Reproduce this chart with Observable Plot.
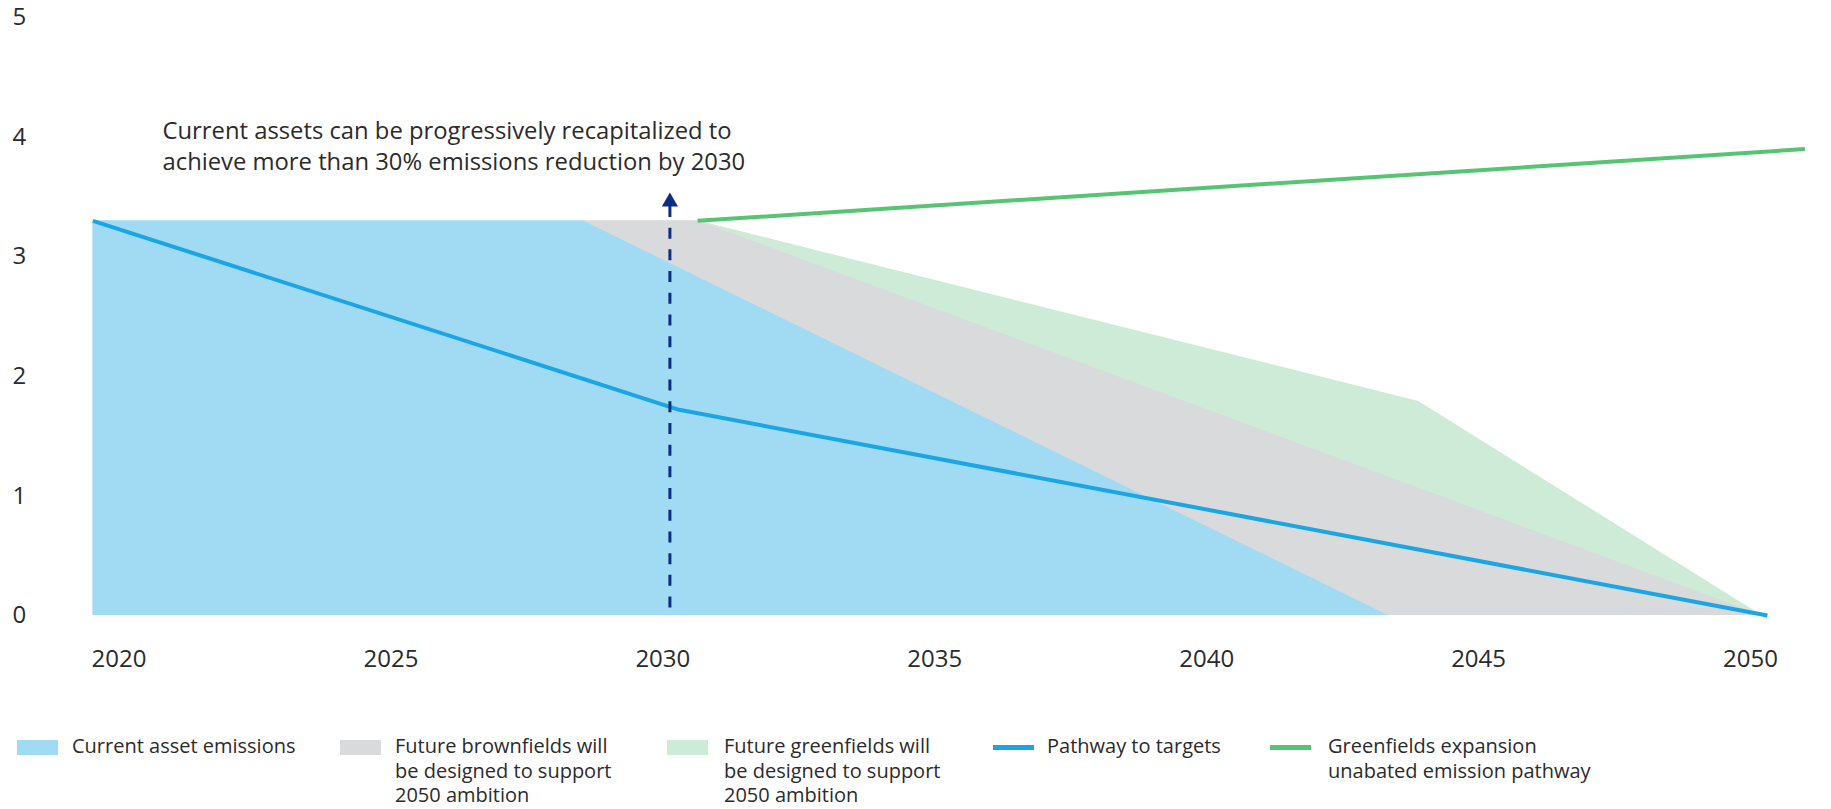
<!DOCTYPE html>
<html>
<head>
<meta charset="utf-8">
<script src="https://cdn.jsdelivr.net/npm/d3@7"></script>
<script src="https://cdn.jsdelivr.net/npm/@observablehq/plot@0.6"></script>
<style>
  html, body { margin: 0; padding: 0; background: #fff; }
  body { width: 1831px; height: 809px; position: relative; overflow: hidden; font-family: "Open Sans", sans-serif; color: #2b2b2b; }
  #chart { position: absolute; left: 0; top: 0; }
  #legend { position: absolute; left: 0; top: 734px; width: 1831px; font-size: 20px; line-height: 24.5px; }
  .item { position: absolute; top: 0; }
  .sw { position: absolute; left: 0; width: 41px; }
  .sw.area { top: 6px; height: 15px; }
  .sw.line { top: 11px; height: 5px; }
  .lab { position: absolute; top: 0; white-space: nowrap; }
</style>
</head>
<body>
<div id="chart"></div>
<div id="legend"></div>
<script>
// ---- data (years, values in the chart's own units) ----
const xTicks = [2020, 2025, 2030, 2035, 2040, 2045, 2050];
const yTicks = [0, 1, 2, 3, 4, 5];

// Current asset emissions (area outline)
const currentYears  = [2019.52, 2028.53, 2043.34];
const currentValues = [3.3, 3.3, 0];

// Future brownfields (upper outline, drawn under the blue area)
const brownYears  = [2028.53, 2030.64, 2050.21];
const brownValues = [3.3, 3.3, 0];

// Future greenfields (upper outline, drawn under the grey area)
const greenYears  = [2030.64, 2043.9, 2050.21];
const greenValues = [3.3, 1.79, 0];

// Pathway to targets
const pathYears  = [2019.52, 2030.3, 2050.31];
const pathValues = [3.3, 1.72, 0];

// Greenfields expansion unabated emission pathway
const unabatedYears  = [2030.64, 2051.0];
const unabatedValues = [3.3, 3.9];

// 2030 marker (dashed arrow)
const markerYear = [2030.13];
const markerFrom = [0];
const markerTo   = [3.42];
const markerHead = [3.459];

// annotation
const noteText = ["Current assets can be progressively recapitalized to\nachieve more than 30% emissions reduction by 2030"];
const noteYear = [2020.8];
const noteValue = [3.935];

// legend
const legendLabels = [
  "Current asset emissions",
  "Future brownfields will<br>be designed to support<br>2050 ambition",
  "Future greenfields will<br>be designed to support<br>2050 ambition",
  "Pathway to targets",
  "Greenfields expansion<br>unabated emission pathway"
];
const legendKinds = ["area", "area", "area", "line", "line"];

// colours
const C = {
  current: "#a0daf3",
  brown: "#d9dadc",
  green: "#cdebd6",
  path: "#1aa6e6",
  unabated: "#57c473",
  marker: "#0b2d85",
  text: "#2b2b2b"
};
const legendColors = [C.current, C.brown, C.green, C.path, C.unabated];
const legendX = [17, 340, 667, 993, 1270];
const legendTextDx = [55, 55, 57, 54, 58];

const zip = (xs, ys) => xs.map((x, i) => ({x, y: ys[i]}));

const chart = Plot.plot({
  width: 1831,
  height: 690,
  marginLeft: 12,
  marginRight: 0,
  marginTop: 0,
  marginBottom: 75,
  x: {domain: [2020, 2050], range: [118.5, 1750]},
  y: {domain: [0, 5], range: [615, 17]},
  style: {fontFamily: "'Open Sans', sans-serif", fontSize: "24px", color: C.text, background: "transparent", overflow: "visible"},
  marks: [
    Plot.areaY(zip(greenYears, greenValues), {x: "x", y: "y", fill: C.green}),
    Plot.areaY(zip(brownYears, brownValues), {x: "x", y: "y", fill: C.brown}),
    Plot.areaY(zip(currentYears, currentValues), {x: "x", y: "y", fill: C.current}),
    Plot.line(zip(pathYears, pathValues), {x: "x", y: "y", stroke: C.path, strokeWidth: 4, strokeLinecap: "butt"}),
    Plot.line(zip(unabatedYears, unabatedValues), {x: "x", y: "y", stroke: C.unabated, strokeWidth: 4, strokeLinecap: "butt"}),
    Plot.ruleX(markerYear, {x: d => d, y1: (d, i) => markerTo[i], y2: (d, i) => markerFrom[i], stroke: C.marker, strokeWidth: 3, strokeDasharray: "11,10.7"}),
    Plot.dot(markerYear, {x: d => d, y: (d, i) => markerHead[i], symbol: "triangle", r: 6, fill: C.marker, stroke: null}),
    Plot.text(noteText, {x: (d, i) => noteYear[i], y: (d, i) => noteValue[i], text: d => d, textAnchor: "start", lineHeight: 1.31, fontSize: 23.8, fill: C.text}),
    Plot.axisX(xTicks, {tickSize: 0, tickPadding: 34, tickFormat: d => String(d), fontSize: 24, label: null, fill: C.text}),
    Plot.axisY(yTicks, {anchor: "left", tickSize: 0, tickPadding: 0, textAnchor: "start", tickFormat: d => String(d), fontSize: 24, label: null, fill: C.text})
  ]
});
document.getElementById("chart").appendChild(chart);

const legend = document.getElementById("legend");
legendLabels.forEach((lab, i) => {
  const item = document.createElement("div");
  item.className = "item";
  item.style.left = legendX[i] + "px";
  const sw = document.createElement("div");
  sw.className = "sw " + legendKinds[i];
  sw.style.background = legendColors[i];
  const t = document.createElement("div");
  t.className = "lab";
  t.style.left = legendTextDx[i] + "px";
  t.innerHTML = lab;
  item.appendChild(sw);
  item.appendChild(t);
  legend.appendChild(item);
});
</script>
</body>
</html>
